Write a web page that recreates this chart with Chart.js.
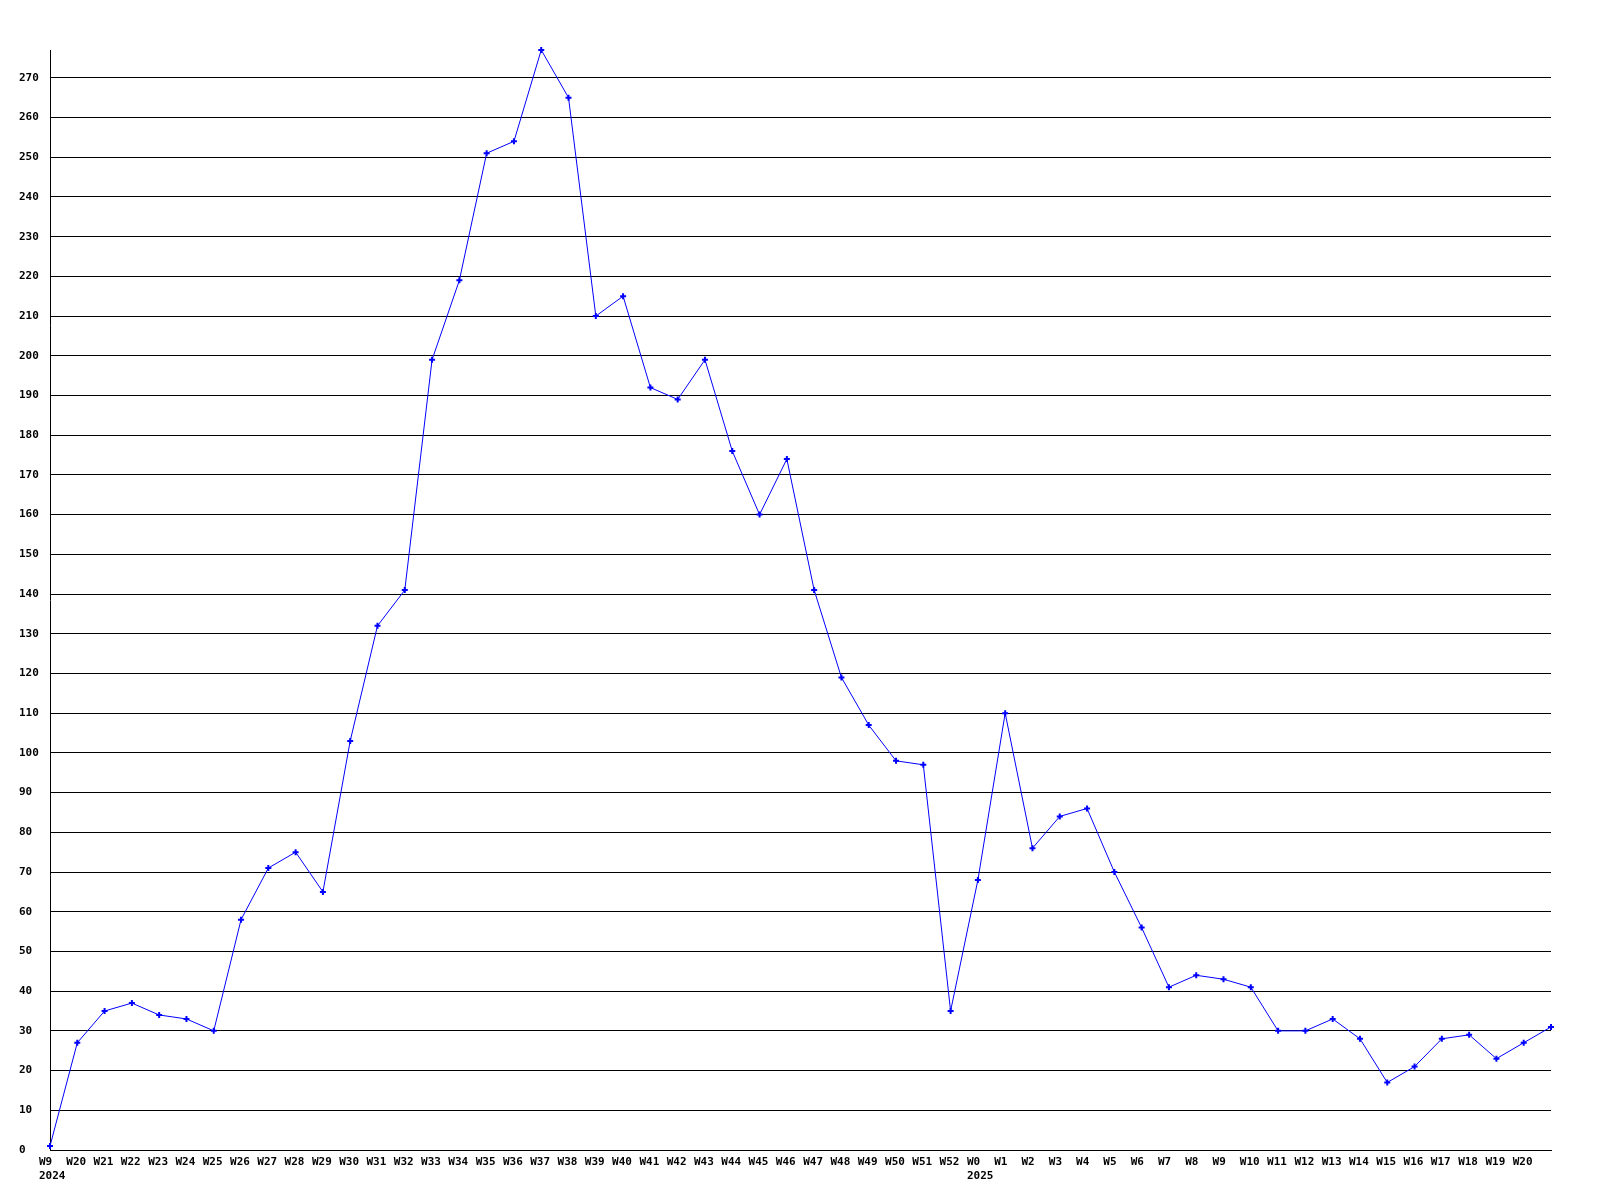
<!DOCTYPE html>
<html>
<head>
<meta charset="utf-8">
<script src="https://cdn.jsdelivr.net/npm/chart.js@4/dist/chart.umd.min.js"></script>
<style>
  html, body { margin: 0; padding: 0; background: #ffffff; }
  #wrap { width: 1600px; height: 1200px; }
</style>
</head>
<body>
<div id="wrap"><canvas id="c" width="1600" height="1200"></canvas></div>
<script>
// Week labels (x categories); the last point has no printed label
const weeks = [
  'W9','W20','W21','W22','W23','W24','W25','W26','W27','W28','W29','W30','W31','W32',
  'W33','W34','W35','W36','W37','W38','W39','W40','W41','W42','W43','W44','W45','W46',
  'W47','W48','W49','W50','W51','W52','W0','W1','W2','W3','W4','W5','W6','W7','W8','W9',
  'W10','W11','W12','W13','W14','W15','W16','W17','W18','W19','W20',''
];
// Year printed under the first week of each year
const yearLabels = { 0: '2024', 34: '2025' };
// Series values
const values = [
  1, 27, 35, 37, 34, 33, 30, 58, 71, 75, 65, 103, 132, 141,
  199, 219, 251, 254, 277, 265, 210, 215, 192, 189, 199, 176, 160, 174,
  141, 119, 107, 98, 97, 35, 68, 110, 76, 84, 86, 70, 56, 41, 44, 43,
  41, 30, 30, 33, 28, 17, 21, 28, 29, 23, 27, 31
];
// Y axis range and step
const yMin = 0;
const yMax = 277;
const yStep = 10;

const labels = weeks.map((w, i) => (yearLabels[i] !== undefined ? [w, yearLabels[i]] : w));

const tickFont = { family: '"DejaVu Sans Mono", monospace', size: 11, weight: 'bold', lineHeight: 1.27 };

new Chart(document.getElementById('c'), {
  type: 'line',
  data: {
    labels: labels,
    datasets: [{
      data: values,
      borderColor: '#0000ff',
      backgroundColor: '#0000ff',
      borderWidth: 1,
      tension: 0,
      fill: false,
      pointStyle: 'cross',
      pointRadius: 3,
      pointBorderWidth: 2,
      pointBorderColor: '#0000ff',
      pointHoverRadius: 3,
      clip: false
    }]
  },
  options: {
    responsive: false,
    animation: false,
    events: [],
    layout: { padding: { left: 19, right: 49, top: 50, bottom: 0 } },
    plugins: { legend: { display: false }, tooltip: { enabled: false }, title: { display: false } },
    scales: {
      x: {
        type: 'category',
        offset: false,
        grid: { display: false, drawTicks: false },
        border: { display: true, color: '#000000', width: 1 },
        ticks: {
          autoSkip: false,
          maxRotation: 0,
          minRotation: 0,
          align: 'start',
          labelOffset: -11,
          padding: 5,
          color: '#000000',
          font: tickFont
        },
        afterFit: (s) => { s.height = 50; }
      },
      y: {
        min: yMin,
        max: yMax,
        grid: { display: true, color: '#000000', lineWidth: 1, drawTicks: false },
        border: { display: true, color: '#000000', width: 1 },
        ticks: {
          stepSize: yStep,
          crossAlign: 'far',
          padding: 0,
          color: '#000000',
          font: tickFont
        },
        afterBuildTicks: (s) => { s.ticks = s.ticks.filter(t => t.value % yStep === 0); },
        afterFit: (s) => { s.width = 31; }
      }
    }
  }
});
</script>
</body>
</html>
